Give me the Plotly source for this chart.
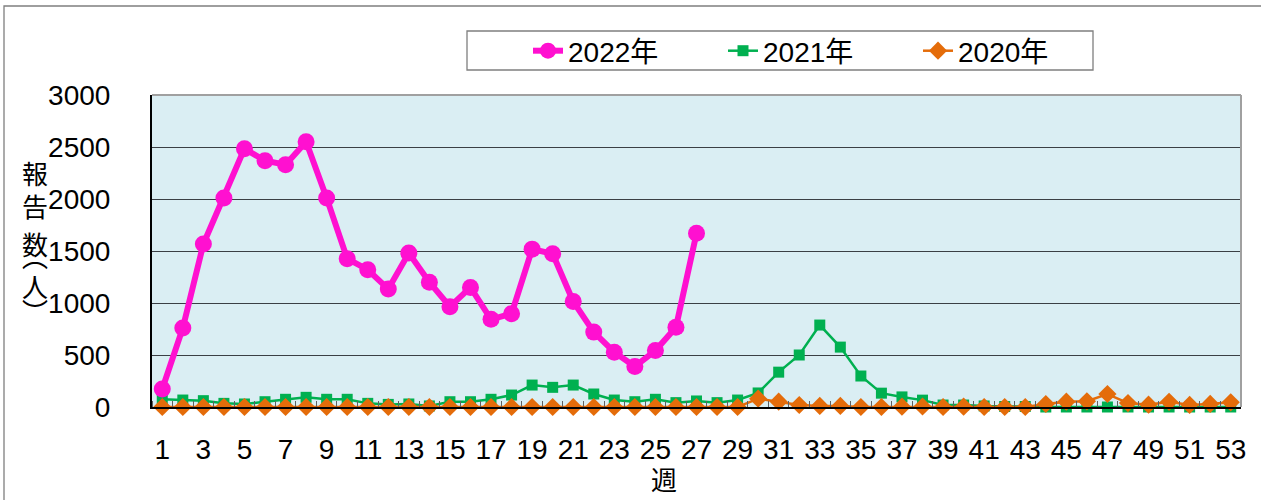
import plotly.graph_objects as go

weeks = list(range(1, 54))
tick_weeks = list(range(1, 54, 2))

y2022 = [173, 760, 1567, 2010, 2484, 2368, 2330, 2550, 2010, 1426, 1320, 1134, 1480, 1200,
         965, 1150, 843, 897, 1518, 1473, 1015, 720, 527, 390, 543, 767, 1670]
y2021 = [74, 67, 61, 35, 29, 51, 74, 93, 74, 74, 35, 25, 29, 10, 51, 51, 74, 115, 211, 189,
         211, 125, 67, 51, 74, 42, 58, 42, 67, 135, 335, 500, 788, 576, 298, 133, 97, 66,
         19, 19, 10, 5, 5, 0, 0, 0, 0, 0, 0, 0, 0, 0, 0]
y2020 = [0] * 29 + [80, 51, 19, 10, 10, 0, 0, 3, 5, 0, 3, 0, 0, 0, 29, 51, 55, 125, 38,
                    22, 50, 20, 30, 45]

names = ["2022年", "2021年", "2020年"]
ytitle_chars = ["報", "告", "数", "︵", "人", "︶"]

W, H = 1261, 500
L, R, T, B = 152, 1241, 95, 407
pw, ph = R - L, B - T

def px(x):
    return (x - L) / pw

def py(y):
    return (B - y) / ph

FONT = "Liberation Sans, Arial, Noto Sans CJK JP, sans-serif"

fig = go.Figure()
fig.add_trace(go.Scatter(
    x=weeks[:len(y2021)], y=y2021, name=names[1], mode="lines+markers",
    line=dict(color="#00B050", width=2.5),
    marker=dict(symbol="square", size=11, color="#00B050"),
    cliponaxis=False, legendrank=2))
fig.add_trace(go.Scatter(
    x=weeks[:len(y2020)], y=y2020, name=names[2], mode="lines+markers",
    line=dict(color="#E46C0A", width=2.5),
    marker=dict(symbol="diamond", size=14, color="#E46C0A"),
    cliponaxis=False, legendrank=3))
fig.add_trace(go.Scatter(
    x=weeks[:len(y2022)], y=y2022, name=names[0], mode="lines+markers",
    line=dict(color="#FF10D0", width=6),
    marker=dict(symbol="circle", size=17, color="#FF10D0"),
    cliponaxis=False, legendrank=1))

shapes = [
    # outer chart border
    dict(type="rect", xref="paper", yref="paper", x0=px(4), x1=px(1400), y0=py(700), y1=py(6),
         line=dict(color="#7F7F7F", width=1.3), fillcolor="rgba(0,0,0,0)", layer="below"),
    # legend box
    dict(type="rect", xref="paper", yref="paper", x0=px(467), x1=px(1093), y0=py(70), y1=py(31),
         line=dict(color="#7F7F7F", width=1.3), fillcolor="white", layer="below"),
    # plot area top/right border
    dict(type="line", xref="paper", yref="paper", x0=0, x1=1, y0=1, y1=1,
         line=dict(color="#A0A0A0", width=2)),
    dict(type="line", xref="paper", yref="paper", x0=1, x1=1, y0=0, y1=1,
         line=dict(color="#A0A0A0", width=2)),
]

annotations = [
    dict(text="週", xref="paper", yref="paper", x=px(664), y=py(478), showarrow=False,
         font=dict(size=26, family="Noto Sans CJK JP", color="black"),
         xanchor="center", yanchor="middle"),
]
char_y = [172, 205, 243, 255, 285, 310]
for ch, cy in zip(ytitle_chars, char_y):
    annotations.append(dict(text=ch, xref="paper", yref="paper", x=px(35), y=py(cy),
                            showarrow=False, xanchor="center", yanchor="middle",
                            font=dict(size=26, family="Noto Sans CJK JP", color="black")))

fig.update_layout(
    width=W, height=H,
    margin=dict(l=L, r=W - R, t=T, b=H - B, pad=0),
    paper_bgcolor="white", plot_bgcolor="#DAEEF3",
    font=dict(family=FONT, size=28, color="black"),
    showlegend=True,
    legend=dict(orientation="h", x=px(528), xanchor="left", y=py(51), yanchor="middle",
                bgcolor="rgba(0,0,0,0)", borderwidth=0, font=dict(size=28, family=FONT),
                entrywidth=150, itemwidth=30, traceorder="normal"),
    shapes=shapes, annotations=annotations,
    xaxis=dict(range=[0.5, 53.5], tickmode="array", tickvals=tick_weeks,
               ticktext=[str(w) for w in tick_weeks], ticks="", showgrid=False,
               zeroline=False, showline=True, linecolor="black", linewidth=2,
               ticklabelstandoff=16, tickfont=dict(size=28),
               minor=dict(tickmode="array", tickvals=[w + 0.5 for w in range(0, 54)],
                          ticks="inside", ticklen=6, tickcolor="#606060", tickwidth=1,
                          showgrid=False)),
    yaxis=dict(range=[0, 3000], tickmode="array", tickvals=[0, 500, 1000, 1500, 2000, 2500, 3000],
               ticks="", showgrid=True, gridcolor="#3A3F44", gridwidth=1, zeroline=False,
               showline=True, linecolor="black", linewidth=2,
               ticklabelstandoff=34, tickfont=dict(size=28)),
)

fig.write_html("out.html", config={"displayModeBar": False},
               post_script="document.body.style.margin='0';document.body.style.overflow='hidden';")
